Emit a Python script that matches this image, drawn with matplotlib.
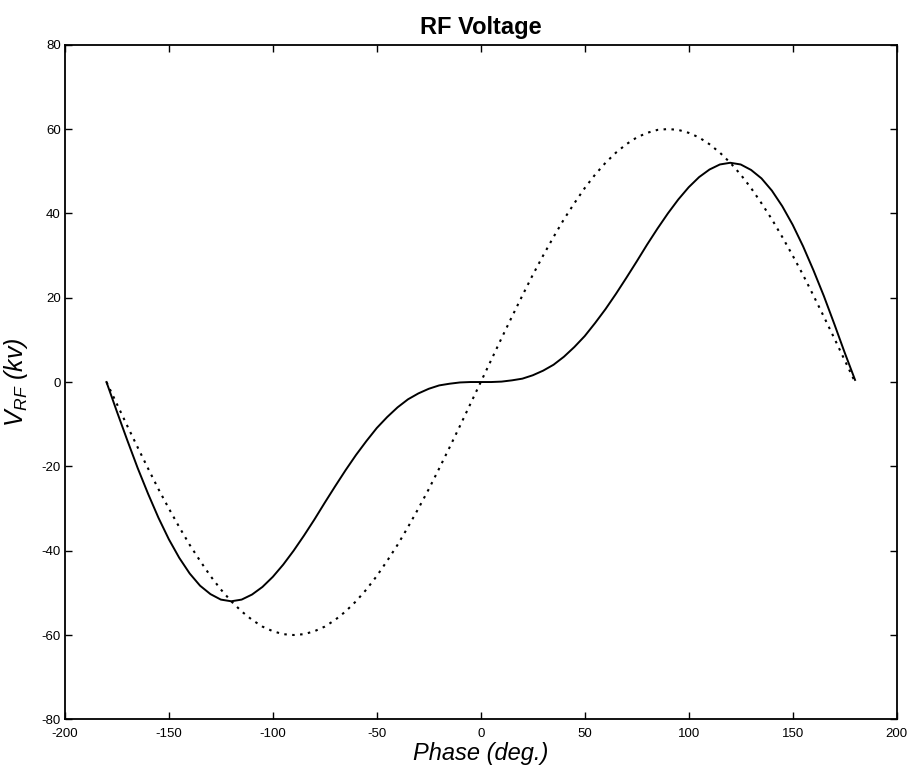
import numpy as np
import matplotlib
matplotlib.use("Agg")
import matplotlib.pyplot as plt

plt.rcParams['font.family'] = ['Liberation Sans', 'DejaVu Sans']
plt.rcParams['mathtext.fontset'] = 'custom'
plt.rcParams['mathtext.it'] = 'Liberation Sans:italic'
plt.rcParams['mathtext.rm'] = 'Liberation Sans'
plt.rcParams['axes.unicode_minus'] = False

# phase in degrees (5 deg steps) (kV)
phase = list(range(-180, 181, 5))

# solid curve (combined voltage)
v_total = [0.0, -7.0, -13.8, -20.4, -26.5, -32.2, -37.3, -41.7, -45.4, -48.3,
           -50.3, -51.6, -52.0, -51.6, -50.4, -48.6, -46.2, -43.3, -40.0, -36.4,
           -32.6, -28.6, -24.7, -20.9, -17.3, -14.0, -10.9, -8.3, -6.0, -4.1,
           -2.7, -1.6, -0.8, -0.4, -0.1, 0.0, 0.0,
           0.0, 0.1, 0.4, 0.8, 1.6, 2.7, 4.1, 6.0, 8.3, 10.9,
           14.0, 17.3, 20.9, 24.7, 28.6, 32.6, 36.4, 40.0, 43.3, 46.2,
           48.6, 50.4, 51.6, 52.0, 51.6, 50.3, 48.3, 45.4, 41.7, 37.3,
           32.2, 26.5, 20.4, 13.8, 7.0, 0.5]

# dotted curve (main cavity only)
v_main = [0.0, -5.2, -10.4, -15.5, -20.5, -25.4, -30.0, -34.4, -38.6, -42.4,
          -46.0, -49.2, -52.0, -54.4, -56.4, -58.0, -59.1, -59.8, -60.0, -59.8,
          -59.1, -58.0, -56.4, -54.4, -52.0, -49.2, -46.0, -42.4, -38.6, -34.4,
          -30.0, -25.4, -20.5, -15.5, -10.4, -5.2, 0.0,
          5.2, 10.4, 15.5, 20.5, 25.4, 30.0, 34.4, 38.6, 42.4, 46.0,
          49.2, 52.0, 54.4, 56.4, 58.0, 59.1, 59.8, 60.0, 59.8, 59.1,
          58.0, 56.4, 54.4, 52.0, 49.2, 46.0, 42.4, 38.6, 34.4, 30.0,
          25.4, 20.5, 15.5, 10.4, 5.2, 0.0]

fig = plt.figure(figsize=(9.14, 7.71), dpi=100)
ax = fig.add_axes([0.071, 0.067, 0.910, 0.875])

ax.plot(phase, v_total, color='black', linewidth=1.4, linestyle='-')
ax.plot(phase, v_main, color='black', linewidth=1.5, linestyle=(0, (1.2, 2.6)))

ax.set_xlim(-200, 200)
ax.set_ylim(-80, 80)
ax.set_xticks(np.arange(-200, 201, 50))
ax.set_yticks(np.arange(-80, 81, 20))

ax.tick_params(direction='in', top=True, right=True, length=5, width=1,
               labelsize=9.5, pad=3)
ax.tick_params(axis='x', pad=6)
for s in ax.spines.values():
    s.set_linewidth(1.3)

ax.set_title('RF Voltage', fontsize=17, fontweight='bold', pad=8)
ax.set_xlabel('Phase (deg.)', fontsize=17, style='italic', labelpad=2)
ax.set_ylabel(r'$V_{RF}$ (kv)', fontsize=18, style='italic', labelpad=8)

fig.savefig('out.png', dpi=100)
